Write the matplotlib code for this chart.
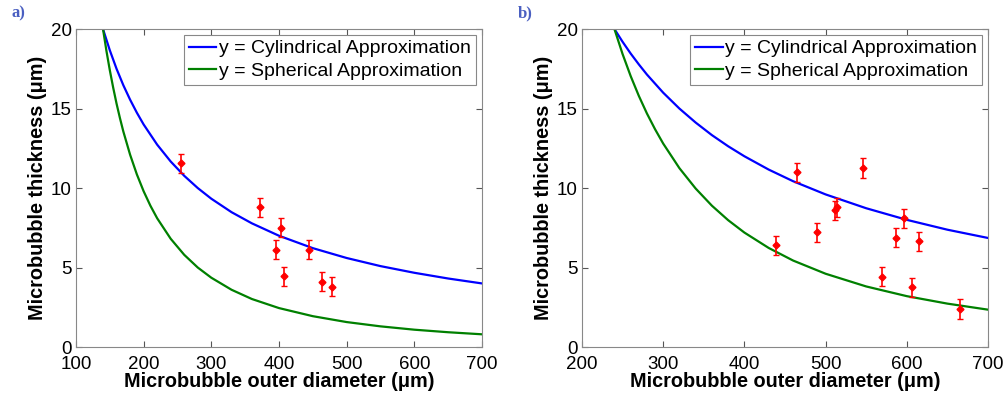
import matplotlib.pyplot as plt

plt.rcParams['font.family'] = ['Liberation Sans', 'DejaVu Sans']

# model curves, panel a
cyl_a_d = [140, 150, 160, 170, 180, 190, 200, 220, 240, 260, 280, 300, 330, 360, 400, 450, 500, 550, 600, 650, 700]
cyl_a_t = [20.0, 18.67, 17.5, 16.47, 15.56, 14.74, 14.0, 12.73, 11.67, 10.77, 10.0, 9.33, 8.48, 7.78, 7.0, 6.22, 5.6, 5.09, 4.67, 4.31, 4.0]
sph_a_d = [140, 145, 150, 155, 160, 165, 170, 180, 190, 200, 210, 220, 240, 260, 280, 300, 330, 360, 400, 450, 500, 550, 600, 650, 700]
sph_a_t = [20.0, 18.64, 17.42, 16.32, 15.31, 14.4, 13.56, 12.1, 10.86, 9.8, 8.89, 8.1, 6.81, 5.8, 5.0, 4.36, 3.6, 3.02, 2.45, 1.94, 1.57, 1.3, 1.09, 0.93, 0.8]

# panel b
cyl_b_d = [240, 250, 260, 270, 280, 300, 320, 340, 360, 380, 400, 430, 460, 500, 550, 600, 650, 700]
cyl_b_t = [20.0, 19.2, 18.46, 17.78, 17.14, 16.0, 15.0, 14.12, 13.33, 12.63, 12.0, 11.16, 10.43, 9.6, 8.73, 8.0, 7.38, 6.86]
sph_b_d = [240, 250, 260, 270, 280, 290, 300, 320, 340, 360, 380, 400, 430, 460, 500, 550, 600, 650, 700]
sph_b_t = [20.0, 18.43, 17.04, 15.8, 14.69, 13.7, 12.8, 11.25, 9.97, 8.89, 7.98, 7.2, 6.23, 5.44, 4.61, 3.81, 3.2, 2.73, 2.35]

# measured microbubbles
meas_a_d = [255, 372, 395, 403, 408, 445, 464, 479]
meas_a_t = [11.55, 8.78, 6.13, 7.5, 4.45, 6.13, 4.12, 3.78]
meas_b_d = [439, 465, 489, 512, 514, 546, 570, 587, 596, 606, 615, 665]
meas_b_t = [6.39, 10.99, 7.21, 8.61, 8.78, 11.26, 4.41, 6.87, 8.09, 3.76, 6.66, 2.39]
err = 0.6

fig = plt.figure(figsize=(10.06, 3.93), dpi=100)

panels = [
    (0.0755, 100, 'a)', cyl_a_d, cyl_a_t, sph_a_d, sph_a_t, meas_a_d, meas_a_t),
    (0.5785, 200, 'b)', cyl_b_d, cyl_b_t, sph_b_d, sph_b_t, meas_b_d, meas_b_t),
]

for left, xmin, tag, cd, ct, sd, st, md, mt in panels:
    ax = fig.add_axes([left, 0.117, 0.4036, 0.809])
    ax.plot(cd, ct, color='#0000ff', lw=1.6, label='y = Cylindrical Approximation')
    ax.plot(sd, st, color='#008000', lw=1.6, label='y = Spherical Approximation')
    ax.errorbar(md, mt, yerr=err, fmt='D', color='red', ms=3.5, elinewidth=1.2,
                capsize=2, capthick=1.0)
    ax.set_xlim(xmin, 700)
    ax.set_ylim(0, 20)
    ax.set_yticks([0, 5, 10, 15, 20])
    ax.tick_params(direction='in', top=True, right=True, labelsize=13.5, length=4,
                   color='#555555', pad=3)
    ax.tick_params(axis='x', pad=6.5)
    for s in ax.spines.values():
        s.set_color('#888888')
    ax.set_xlabel('Microbubble outer diameter (\u03bcm)', fontsize=14.3, fontweight='bold', labelpad=-1)
    ax.set_ylabel('Microbubble thickness (\u03bcm)', fontsize=14.3, fontweight='bold', labelpad=3)
    leg = ax.legend(loc='upper right', fontsize=14, fancybox=False, framealpha=1,
                    edgecolor='#888888', handlelength=1.4, handletextpad=0.15,
                    borderpad=0.25, labelspacing=0.25, borderaxespad=0.3)
    leg.get_frame().set_linewidth(0.8)
    fig.text(left - 0.064, 0.965, tag, fontsize=12, fontweight='bold', color='#4a5fc1',
             family='Liberation Serif', va='center')

fig.savefig('out.png', dpi=100)
